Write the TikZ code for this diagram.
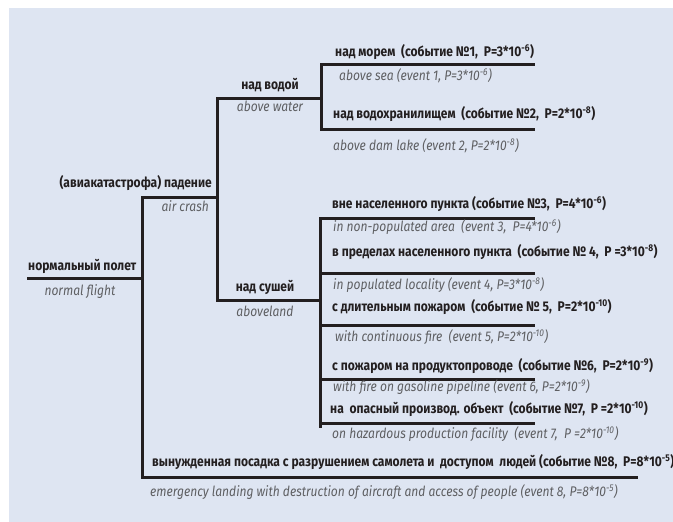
\documentclass[tikz,border=0pt]{standalone}
\usepackage{fontspec}
\setmainfont[FakeStretch=0.86]{Fira Sans}
\definecolor{panel}{HTML}{DEE5F2}
\definecolor{ink}{HTML}{231F20}
\definecolor{greytxt}{HTML}{5E5F62}
\tikzset{
  ru/.style={font=\fontsize{14}{16}\selectfont\bfseries, text=ink, inner sep=0pt, text height=10pt, text depth=3pt},
  en/.style={font=\fontsize{14}{16}\selectfont\itshape, text=greytxt, inner sep=0pt, text height=10pt, text depth=3pt},
  branch/.style={draw=ink, line width=3pt, line cap=rect}
}
\newcommand{\pe}[1]{\textsuperscript{#1}}
\begin{document}
\begin{tikzpicture}[x=1pt,y=-1pt]
\useasboundingbox (0,0) rectangle (673,522);
\fill[panel] (9,8) rectangle (673,522);
% coordinates of the tree
\coordinate (r0) at (28,278);
\coordinate (r1) at (142,278);
\coordinate (a0) at (142,197);
\coordinate (a1) at (217,197);
\coordinate (b0) at (142,477);
\coordinate (b1) at (636,477);
\coordinate (w0) at (217,98);
\coordinate (w1) at (321,98);
\coordinate (l0) at (217,300);
\coordinate (l1) at (320,300);
\coordinate (c0) at (321,64);
\coordinate (c1) at (533,64);
\coordinate (c2) at (321,129);
\coordinate (c3) at (533,129);
\coordinate (d3) at (320,218);
\coordinate (e3) at (533,218);
\coordinate (d4) at (320,273);
\coordinate (e4) at (533,273);
\coordinate (d5) at (320,325);
\coordinate (e5) at (533,325);
\coordinate (d6) at (320,379);
\coordinate (e6) at (533,379);
\coordinate (d7) at (320,423);
\coordinate (e7) at (533,423);
\coordinate (d8) at (320,426);
% lines
\draw[branch] (r0) -- (r1);
\draw[branch] (a1) -- (a0) -- (b0) -- (b1);
\draw[branch] (w1) -- (w0) -- (l0) -- (l1);
\draw[branch] (c1) -- (c0) -- (c2) -- (c3);
\draw[branch] (e3) -- (d3) -- (d8);
\draw[branch] (d4) -- (e4);
\draw[branch] (d5) -- (e5);
\draw[branch] (d6) -- (e6);
\draw[branch] (d7) -- (e7);
% texts
\node[ru, anchor=west] (t0) at (28,267) {нормальный полет};
\node[en] (t0e) at (80,292) {normal flight};
\node[ru, anchor=east] (t1) at (212,184) {(авиакатастрофа) падение};
\node[en, anchor=east] (t1e) at (209,208) {air crash};
\node[ru] (t2) at (270,86) {над водой};
\node[en] (t2e) at (270,108) {above water};
\node[ru] (t3) at (265,288) {над сушей};
\node[en] (t3e) at (265,313) {aboveland};
\node[ru, anchor=west] (s1) at (335,53) {над морем\ \ (событие №1, \ P=3*10\pe{-6})};
\node[en, anchor=west] (s1e) at (339,77) {above sea (event 1, P=3*10\pe{-6})};
\node[ru, anchor=west] (s2) at (333,115) {над водохранилищем\ \ (событие №2, \ P=2*10\pe{-8})};
\node[en, anchor=west] (s2e) at (333,147) {above dam lake (event 2, P=2*10\pe{-8})};
\node[ru, anchor=west] (s3) at (332,205) {вне населенного пункта (событие №3, \ P=4*10\pe{-6})};
\node[en, anchor=west] (s3e) at (333,228) {in non-populated area \ (event 3, \ P=4*10\pe{-6})};
\node[ru, anchor=west] (s4) at (332,253) {в пределах населенного пункта \ (событие № 4, \ P =3*10\pe{-8})};
\node[en, anchor=west] (s4e) at (333,286) {in populated locality (event 4, P=3*10\pe{-8})};
\node[ru, anchor=west] (s5) at (332,308) {с длительным пожаром \ (событие № 5, \ P=2*10\pe{-10})};
\node[en, anchor=west] (s5e) at (335,338) {with continuous fire \ (event 5, P=2*10\pe{-10})};
\node[ru, anchor=west] (s6) at (332,367) {с пожаром на продуктопроводе \ (событие №6, \ P=2*10\pe{-9})};
\node[en, anchor=west] (s6e) at (333,388) {with fire on gasoline pipeline (event 6, P=2*10\pe{-9})};
\node[ru, anchor=west] (s7) at (330,410) {на \ опасный производ. объект \ (событие №7, \ P =2*10\pe{-10})};
\node[en, anchor=west] (s7e) at (332,435) {on hazardous production facility \ (event 7, \ P =2*10\pe{-10})};
\node[ru, anchor=west] (s8) at (152,463) {вынужденная посадка с разрушением самолета и \ доступом \ людей (событие №8, \ P=8*10\pe{-5})};
\node[en, anchor=west] (s8e) at (150,493) {emergency landing with destruction of aircraft and access of people (event 8, P=8*10\pe{-5})};
\end{tikzpicture}
\end{document}
